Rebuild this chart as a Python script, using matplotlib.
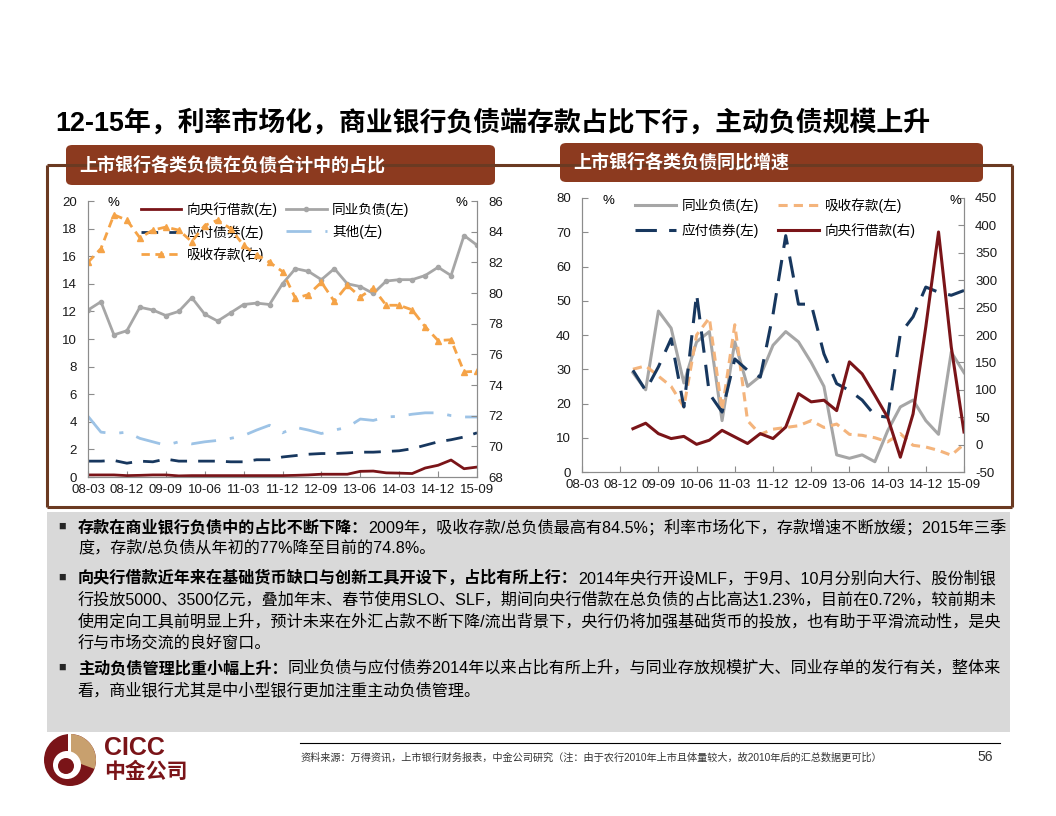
import numpy as np
import matplotlib
matplotlib.use("Agg")
import matplotlib.pyplot as plt
from matplotlib.patches import FancyBboxPatch, Rectangle, Circle, Wedge
from matplotlib.lines import Line2D

plt.rcParams['font.family'] = ['Liberation Sans', 'Noto Sans CJK SC']
plt.rcParams['axes.unicode_minus'] = False

W, H = 1056, 816

# ---- data (quarterly, 2008Q1 .. 2015Q3) ----
tick_labels = ["08-03", "08-12", "09-09", "10-06", "11-03", "11-12",
               "12-09", "13-06", "14-03", "14-12", "15-09"]

# share of total liabilities, %
pboc_share = [0.15, 0.15, 0.15, 0.10, 0.12, 0.15, 0.15, 0.08, 0.10, 0.10, 0.10,
              0.10, 0.10, 0.10, 0.10, 0.10, 0.12, 0.15, 0.20, 0.20, 0.20, 0.41,
              0.43, 0.30, 0.28, 0.25, 0.65, 0.85, 1.23, 0.60, 0.72]
interbank_share = [12.1, 12.7, 10.3, 10.6, 12.3, 12.1, 11.7, 12.0, 13.0, 11.8, 11.3,
                   11.9, 12.5, 12.6, 12.5, 14.0, 15.1, 14.9, 14.3, 15.1, 14.0, 13.8,
                   13.3, 14.2, 14.3, 14.3, 14.6, 15.2, 14.6, 17.5, 16.8]
bonds_share = [1.15, 1.15, 1.2, 1.0, 1.15, 1.1, 1.3, 1.15, 1.15, 1.15, 1.15,
               1.1, 1.1, 1.25, 1.25, 1.45, 1.55, 1.65, 1.7, 1.7, 1.75, 1.8,
               1.8, 1.85, 1.9, 2.05, 2.3, 2.55, 2.7, 2.9, 3.2]
other_share = [4.4, 3.25, 3.15, 3.25, 2.8, 2.55, 2.3, 2.55, 2.4, 2.55, 2.65,
               2.8, 3.0, 3.4, 3.75, 3.2, 3.6, 3.4, 3.15, 3.4, 3.6, 4.2,
               4.1, 4.35, 4.4, 4.55, 4.65, 4.65, 4.45, 4.35, 4.35]
deposit_share = [82.0, 82.9, 85.1, 84.75, 83.6, 84.1, 84.3, 84.1, 83.35, 84.4, 84.75,
                 84.2, 83.1, 82.5, 82.0, 81.4, 79.65, 79.9, 80.7, 79.45, 80.5, 79.75,
                 80.3, 79.2, 79.2, 78.9, 77.8, 76.9, 76.95, 74.85, 74.9]

# yoy growth, %, from 2009Q1
yoy_start = 4
interbank_yoy = [29, 24, 47, 42, 26, 38, 41, 15, 38, 25, 28, 37, 41, 38, 32,
                 25, 5, 4, 5, 3, 12, 19, 21, 15, 11, 35, 29]
deposit_yoy = [30, 31, 28, 25, 19, 40, 45, 18, 43, 15, 11, 12.5, 13, 13.5, 15,
               13, 14, 11, 10.7, 10, 8.8, 11.2, 7.8, 7.3, 6.3, 4.9, 8.1]
bonds_yoy = [29.7, 23.8, 30.7, 38.9, 19, 52, 22.9, 17.5, 33, 29.7, 27.7, 46, 69, 49, 49,
             34.5, 25.8, 23.8, 21, 16.5, 16, 40.4, 45.3, 54, 52.5, 51.6, 53]
pboc_yoy = [29, 39, 20, 11, 15, 0.5, 8, 26, 14, 2, 20, 11, 32, 93, 78,
            81, 62, 151, 129, 90, 50, -23, 56, 215, 388, 178, 23]

title = "12-15年，利率市场化，商业银行负债端存款占比下行，主动负债规模上升"
left_title = "上市银行各类负债在负债合计中的占比"
right_title = "上市银行各类负债同比增速"
bullets = [
    ("存款在商业银行负债中的占比不断下降：",
     ["2009年，吸收存款/总负债最高有84.5%；利率市场化下，存款增速不断放缓；2015年三季",
      "度，存款/总负债从年初的77%降至目前的74.8%。"]),
    ("向央行借款近年来在基础货币缺口与创新工具开设下，占比有所上行：",
     ["2014年央行开设MLF，于9月、10月分别向大行、股份制银",
      "行投放5000、3500亿元，叠加年末、春节使用SLO、SLF，期间向央行借款在总负债的占比高达1.23%，目前在0.72%，较前期未",
      "使用定向工具前明显上升，预计未来在外汇占款不断下降/流出背景下，央行仍将加强基础货币的投放，也有助于平滑流动性，是央",
      "行与市场交流的良好窗口。"]),
    ("主动负债管理比重小幅上升：",
     ["同业负债与应付债券2014年以来占比有所上升，与同业存放规模扩大、同业存单的发行有关，整体来",
      "看，商业银行尤其是中小型银行更加注重主动负债管理。"]),
]
bullet_rows = [[527, 548], [578, 600, 622, 643], [668, 690]]
source = "资料来源：万得资讯，上市银行财务报表，中金公司研究（注：由于农行2010年上市且体量较大，故2010年后的汇总数据更可比）"

RED = '#7A1418'
GRAY = '#A6A6A6'
NAVY = '#17375E'
LBLUE = '#9DC3E6'
ORANGE = '#F5A347'
ORANGE2 = '#F4B47C'
BROWN = '#8C3A1F'
FRAME = '#6B3A22'
AXC = '#8C8C8C'


def fx(px):
    return px / W


def fy(py):
    return 1 - py / H


fig = plt.figure(figsize=(W / 100, H / 100), dpi=100)
fig.patch.set_facecolor('white')

# page title
fig.text(fx(55), fy(123), title, fontsize=19.4, fontweight='bold',
         va='center', ha='left', color='black')

# outer frame around both charts
for xs, ys in [([47, 1012], [165, 165]), ([47, 47], [165, 507]),
               ([1012, 1012], [165, 507]), ([47, 1012], [507, 507])]:
    fig.add_artist(Line2D([fx(x) for x in xs], [fy(y) for y in ys],
                          color=FRAME, lw=2.2, solid_capstyle='butt'))

# banners
for (x0, x1, y0, y1, txt, ty) in [(66, 495, 145, 185, left_title, 165),
                                  (560, 983, 143, 182, right_title, 162)]:
    fig.add_artist(FancyBboxPatch((fx(x0), fy(y1)), fx(x1 - x0), (y1 - y0) / H,
                                  boxstyle="round,pad=0,rounding_size=0.006",
                                  fc=BROWN, ec='none', transform=fig.transFigure))
    fig.text(fx(x0 + 13), fy(ty), txt, fontsize=13, fontweight='bold',
             color='white', va='center', ha='left')


def style_axes(ax, twin):
    ax.spines['top'].set_visible(False)
    twin.spines['top'].set_visible(False)
    for a in (ax, twin):
        for s in a.spines.values():
            s.set_color(AXC)
            s.set_linewidth(0.8)
        a.tick_params(direction='in', length=4, color=AXC, labelsize=9.5,
                      labelcolor='#1a1a1a', width=0.8)
    ax.tick_params(axis='y', pad=8)
    twin.tick_params(axis='y', pad=8)
    ax.tick_params(axis='x', pad=5)
    ax.set_xlim(0, 30)
    ax.set_xticks(np.arange(0, 31, 3))
    ax.set_xticklabels(tick_labels)
    ax.set_facecolor('none')


# ---- left chart ----
x_all = np.arange(len(pboc_share))
axL = fig.add_axes([fx(88), fy(477), fx(477 - 88), (477 - 201) / H])
axL2 = axL.twinx()
style_axes(axL, axL2)
axL.set_ylim(0, 20)
axL.set_yticks(np.arange(0, 21, 2))
axL2.set_ylim(68, 86)
axL2.set_yticks(np.arange(68, 87, 2))

h1, = axL.plot(x_all, pboc_share, color=RED, lw=2)
h2, = axL.plot(x_all, interbank_share, color=GRAY, lw=2, marker='o', ms=3)
h3, = axL.plot(x_all, bonds_share, color=NAVY, lw=2, dashes=(6, 4))
h4, = axL.plot(x_all, other_share, color=LBLUE, lw=2, dashes=(9, 5, 1.5, 5))
h5, = axL2.plot(x_all, deposit_share, color=ORANGE, lw=2, dashes=(3, 2),
                marker='^', ms=5)
leg = axL.legend([h1, h3, h5, h2, h4],
                 ["向央行借款(左)", "应付债券(左)", "吸收存款(右)", "同业负债(左)", "其他(左)"],
                 loc='upper left', bbox_to_anchor=(0.135, 0.995), ncol=2, frameon=False,
                 fontsize=9.8, handlelength=3.0, handletextpad=0.4, columnspacing=0.6,
                 labelspacing=0.55, borderpad=0, borderaxespad=0)
leg.set_zorder(5)
fig.text(fx(113), fy(203), "%", fontsize=9.5, ha='center', va='center')
fig.text(fx(461), fy(203), "%", fontsize=9.5, ha='center', va='center')

# ---- right chart ----
x_yoy = np.arange(yoy_start, yoy_start + len(pboc_yoy))
axR = fig.add_axes([fx(582), fy(472), fx(964 - 582), (472 - 198) / H])
axR2 = axR.twinx()
style_axes(axR, axR2)
axR.set_ylim(0, 80)
axR.set_yticks(np.arange(0, 81, 10))
axR2.set_ylim(-50, 450)
axR2.set_yticks(np.arange(-50, 451, 50))

g1, = axR.plot(x_yoy, interbank_yoy, color=GRAY, lw=2.2)
g2, = axR.plot(x_yoy, deposit_yoy, color=ORANGE2, lw=2.2, dashes=(3, 2))
g3, = axR.plot(x_yoy, bonds_yoy, color=NAVY, lw=2.2, dashes=(7, 4))
g4, = axR2.plot(x_yoy, pboc_yoy, color=RED, lw=2.2)
axR.legend([g1, g3, g2, g4],
           ["同业负债(左)", "应付债券(左)", "吸收存款(左)", "向央行借款(右)"],
           loc='upper left', bbox_to_anchor=(0.14, 1.0), ncol=2, frameon=False,
           fontsize=9.8, handlelength=3.0, handletextpad=0.4, columnspacing=1.4,
           labelspacing=0.75, borderpad=0, borderaxespad=0)
fig.text(fx(608), fy(201), "%", fontsize=9.5, ha='center', va='center')
fig.text(fx(955), fy(201), "%", fontsize=9.5, ha='center', va='center')

# ---- commentary box ----
fig.add_artist(Rectangle((fx(47), fy(732)), fx(1010 - 47), (732 - 512) / H,
                         fc='#D9D9D9', ec='none', transform=fig.transFigure, zorder=0))
renderer = fig.canvas.get_renderer()
body_fs = 11.6
for (head, lines), rows in zip(bullets, bullet_rows):
    fig.text(fx(62), fy(rows[0]), "■", fontsize=9, va='center', ha='center',
             color='#262626')
    t = fig.text(fx(78), fy(rows[0]), head, fontsize=body_fs, fontweight='bold',
                 va='center', ha='left', color='black')
    bb = t.get_window_extent(renderer)
    fig.text(bb.x1 / W, fy(rows[0]), lines[0], fontsize=body_fs,
             va='center', ha='left', color='black')
    for line, row in zip(lines[1:], rows[1:]):
        fig.text(fx(78), fy(row), line, fontsize=body_fs,
                 va='center', ha='left', color='black')

# ---- footer ----
fig.add_artist(Line2D([fx(300), fx(1000)], [fy(743), fy(743)], color='black', lw=0.8))
fig.text(fx(300), fy(757), source, fontsize=7.3, va='center', ha='left', color='#333333')
fig.text(fx(993), fy(757), "56", fontsize=10, va='center', ha='right', color='#333333')

# logo (pixel coordinates)
fig.add_artist(Wedge((70, 816 - 760), 26, 0, 360, fc=RED, ec='none',
                     transform=None))
fig.add_artist(Wedge((70, 816 - 760), 26, -20, 90, fc='#C8A06E', ec='none',
                     transform=None))
fig.add_artist(Circle((67, 816 - 765), 14, fc='white', ec='none', transform=None))
fig.add_artist(Circle((66, 816 - 766), 8, fc=RED, ec='none', transform=None))
fig.add_artist(Rectangle((68, 816 - 752), 3, 18, fc='white', ec='none', transform=None))
fig.text(fx(104), fy(748), "CICC", fontsize=18, fontweight='bold', color=RED,
         va='center', ha='left')
fig.text(fx(104), fy(772), "中金公司", fontsize=15, fontweight='bold', color=RED,
         va='center', ha='left')

fig.savefig("out.png", dpi=100, facecolor='white')
